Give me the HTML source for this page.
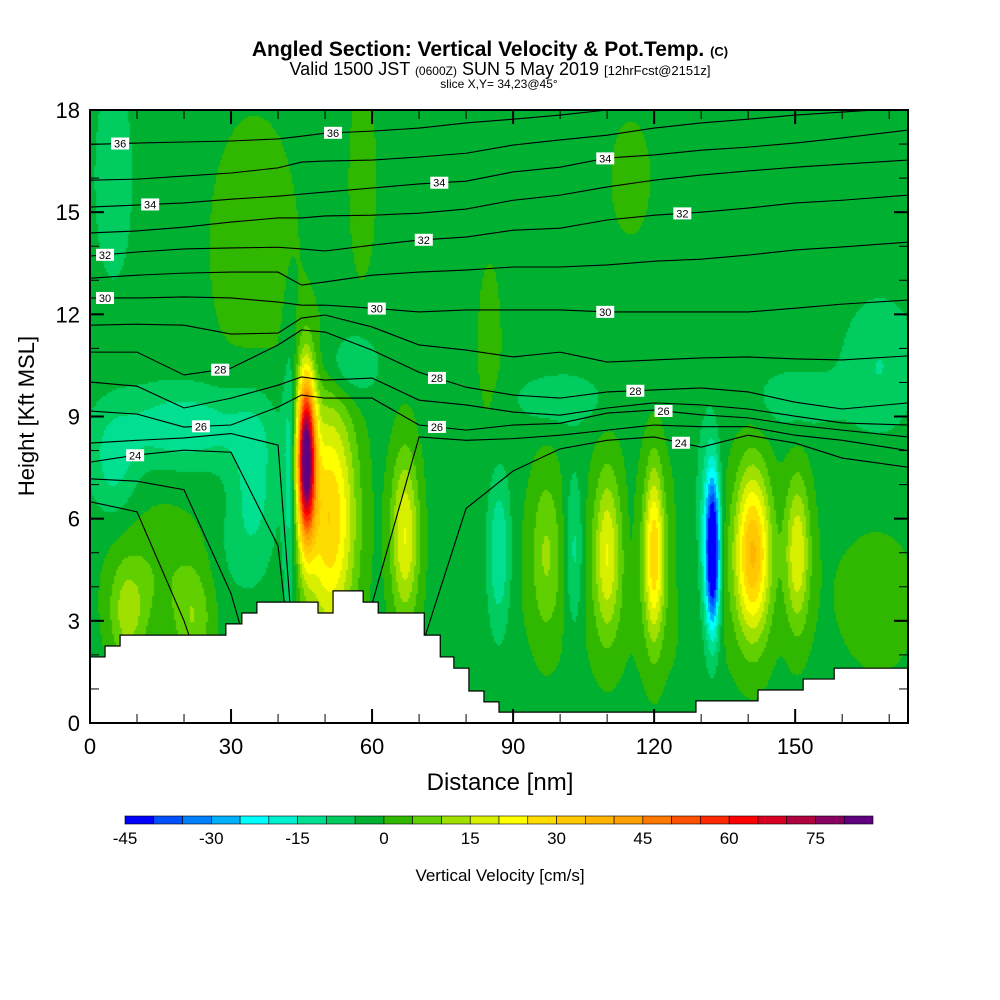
<!DOCTYPE html>
<html><head><meta charset="utf-8">
<style>
body{margin:0;background:#fff;}
#wrap{position:relative;width:1000px;height:1000px;background:#fff;overflow:hidden;font-family:"Liberation Sans",Arial,sans-serif;}
</style></head>
<body>
<div id="wrap">
<svg id="svg" width="1000" height="1000" xmlns="http://www.w3.org/2000/svg">
  <text x="490" y="56" text-anchor="middle" font-size="21" font-weight="bold">Angled Section: Vertical Velocity &amp; Pot.Temp. <tspan font-size="13">(C)</tspan></text>
  <text x="500" y="75" text-anchor="middle" font-size="18">Valid 1500 JST <tspan font-size="12">(0600Z)</tspan> SUN 5 May 2019 <tspan font-size="13">[12hrFcst@2151z]</tspan></text>
  <text x="499" y="88" text-anchor="middle" font-size="12">slice X,Y= 34,23@45°</text>
  <foreignObject x="90" y="110" width="818" height="613">
    <canvas id="cv" width="818" height="613" xmlns="http://www.w3.org/1999/xhtml" style="display:block"></canvas>
  </foreignObject>
  <g id="lines"></g>
  <g id="terrain"></g>
  <g id="labels"></g>
  <g id="axes"></g>
  <text x="500" y="790" text-anchor="middle" font-size="24">Distance [nm]</text>
  <text transform="translate(34,416) rotate(-90)" text-anchor="middle" font-size="22">Height [Kft MSL]</text>
  <g id="cbar"></g>
  <text x="500" y="881" text-anchor="middle" font-size="17">Vertical Velocity [cm/s]</text>
</svg>
</div>
<script>
// ---- data ----
const xNodes=[0,10,20,30,40,45,50,60,70,80,90,100,110,120,130,140,150,160,174];
const thetaLevels=[22,23,24,25,26,27,28,29,30,31,32,33,34,35,36];
const th22=[6.5,6.2,3.0,-1,-1,-1,-1,-1,-1,-1,-1,-1,-1,-1,-1,-1,-1,-1,-1];
const th23=[7.17,7.1,6.85,3.8,-1,-1,-1,-1,-1,-1,-1,-1,-1,-1,-1,-1,-1,-1,-1];
const th24=[7.66,7.87,8.01,7.95,5.2,-1,-1,-1,2.0,6.3,7.4,8.05,8.3,8.4,8.1,8.45,8.22,7.78,7.51];
const th25=[8.22,8.3,8.37,8.5,8.16,-1,-1,3.5,8.4,8.3,8.35,8.45,8.6,8.75,8.7,8.7,8.45,8.3,8.0];
const th26=[9.16,9.07,8.69,8.75,9.28,9.63,9.54,9.54,8.75,8.6,8.75,8.8,9.1,9.19,9.05,8.96,8.75,8.6,8.4];
const th27=[10.01,9.89,9.25,9.54,9.92,10.16,10.07,10.13,9.48,9.34,9.13,9.04,9.25,9.4,9.34,9.22,9.01,8.81,8.75];
const th28=[10.89,10.89,10.22,10.42,11.1,11.54,11.48,10.95,10.3,9.86,9.63,9.54,9.72,9.78,9.84,9.72,9.42,9.22,9.4];
const th29=[11.68,11.71,11.68,11.42,11.45,11.89,11.98,11.63,11.1,10.95,10.75,10.89,10.6,10.66,10.72,10.75,10.69,10.66,10.78];
const th30=[12.48,12.48,12.51,12.48,12.36,12.27,12.27,12.18,12.07,12.13,12.13,12.13,12.07,12.07,12.07,12.07,12.18,12.3,12.42];
const th31=[13.06,13.15,13.21,13.24,13.24,12.86,12.95,13.15,13.24,13.3,13.39,13.39,13.45,13.56,13.62,13.74,13.89,13.98,14.12];
const th32=[13.71,13.83,13.92,13.95,13.97,13.92,13.86,14.03,14.18,14.27,14.47,14.53,14.77,14.91,15.0,15.12,15.27,15.35,15.5];
const th33=[14.39,14.45,14.56,14.71,14.83,14.83,14.89,14.91,14.97,15.09,15.35,15.5,15.74,15.94,16.09,16.21,16.32,16.41,16.53];
const th34=[15.15,15.21,15.27,15.38,15.47,15.53,15.59,15.71,15.83,15.91,16.18,16.32,16.59,16.68,16.82,16.91,17.03,17.18,17.41];
const th35=[15.94,15.97,16.06,16.15,16.3,16.47,16.5,16.53,16.62,16.73,16.97,17.12,17.26,17.47,17.62,17.73,17.85,17.94,18.06];
const th36=[16.99,17.03,17.06,17.09,17.15,17.23,17.32,17.38,17.47,17.62,17.73,17.85,18.0,18.1,18.2,18.3,18.4,18.45,18.5];
const thetaLines=[th22,th23,th24,th25,th26,th27,th28,th29,th30,th31,th32,th33,th34,th35,th36];
const labelTheta=[36,36,34,34,34,32,32,32,30,30,30,28,28,28,26,26,26,24,24];
const labelDist=[6.4,51.7,12.8,74.3,109.6,3.2,71,126,3.2,61,109.6,27.7,73.8,116,23.6,73.8,122,9.6,125.7];
// terrain (step starts in nm, heights in kft)
const terrStart=[0,3.2,6.4,28.9,32.3,35.5,48.5,51.7,58.1,61.3,71.1,74.5,77.4,80.6,83.8,87.0,128.9,142.1,151.7,158.3];
const terrHeight=[1.94,2.26,2.58,2.91,3.23,3.55,3.23,3.88,3.55,3.23,2.58,1.94,1.61,0.94,0.62,0.32,0.65,0.97,1.29,1.61];
// vertical velocity cells (cm/s): centre distance, centre height, amplitude, width(nm), depth(kft)
const cellX  =[46, 51, 42.5, 67, 87, 97, 103, 110, 115, 120, 126, 132.5, 131, 141, 150.5, 120, 20, 35, 5, 5, 168, 150, 100, 55, 8, 22, 15, 35, 58, 85, 115, 168, 30];
const cellY  =[7.8,6, 7, 5.5, 5, 5, 5, 5, 5, 5, 5, 5, 5.5, 5, 5, 4.5, 8.7, 7, 7.5, 16, 10.5, 9.5, 9.5, 10.5, 3.2, 3, 4.5, 14, 16, 11, 16, 3.5, 5];
const cellAmp=[85, 32, -12, 22, -14, 10, -12, 18, -3, 27, -6, -52, -12, 35, 20, 5, -12, -10, -9, -8, -8, -6, -7, -10, 13, 10, 6, 5, 5, 4, 4, 5, -3];
const cellSX =[1.9, 5.5, 1.5, 3, 2.6, 3, 2, 2.6, 1.5, 2, 1.5, 1.5, 2.5, 3.6, 2.6, 30, 15, 5, 5, 4, 8, 10, 10, 6, 4, 4, 10, 10, 3, 3, 5, 8, 5];
const cellSY =[2.3, 3.5, 4, 2.5, 2.4, 2.4, 2.4, 2.4, 2.3, 2.5, 2.3, 2.2, 3, 2.4, 2.2, 3, 1.2, 2.5, 1.5, 3, 2, 1, 0.8, 1, 1.5, 1.5, 2, 4, 3, 3, 2, 2, 1.5];
const baseW=-2;
const cbarTicks=[-45,-30,-15,0,15,30,45,60,75];
const palette=["#0000ff","#0050ff","#0080ff","#00b0ff","#00ffff","#00f0d0","#00e090","#00cc60","#00b030","#30b800","#60d000","#a0e000","#d8f000","#ffff00","#ffdc00","#ffc800","#ffb400","#ffa000","#ff7800","#ff5000","#ff2800","#ff0000","#d80020","#b00040","#880060","#600080"];
const xTicks=[0,30,60,90,120,150];
const yTicks=[0,3,6,9,12,15,18];

// ---- axes ----
const X0=90,X1=908,Y0=723,Y1=110,XMAX=174,YMAX=18;
const sx=d=>X0+d*(X1-X0)/XMAX;
const sy=h=>Y0-h*(Y0-Y1)/YMAX;
const NS="http://www.w3.org/2000/svg";
function mk(tag,attrs,parent){const e=document.createElementNS(NS,tag);for(const k in attrs)e.setAttribute(k,attrs[k]);parent.appendChild(e);return e;}

// field
function wAt(d,h){let v=baseW;for(let i=0;i<cellX.length;i++){const a=(d-cellX[i])/cellSX[i],b=(h-cellY[i])/cellSY[i];const r=a*a+b*b;if(r<12)v+=cellAmp[i]*Math.exp(-r);}return v;}
const cv=document.getElementById('cv');


const ctx=cv.getContext('2d');
const step=2;
for(let py=0;py<613;py+=step){for(let px=0;px<818;px+=step){
  const d=(px+1)*XMAX/818,h=YMAX-(py+1)*YMAX/613;
  let k=Math.floor((wAt(d,h)+45)/5);k=Math.max(0,Math.min(25,k));
  ctx.fillStyle=palette[k];ctx.fillRect(px,py,step,step);}}

// isentropes
const gl=document.getElementById('lines');
mk('clipPath',{id:'pc'},document.getElementById('svg'));
mk('rect',{x:X0,y:Y1,width:X1-X0,height:Y0-Y1},document.getElementById('pc'));
gl.setAttribute('clip-path','url(#pc)');
thetaLines.forEach((arr,i)=>{
  const p=mk('polyline',{points:arr.map((h,j)=>sx(xNodes[j])+','+sy(h)).join(' '),fill:'none',stroke:'#000','stroke-width':1.1},gl);
  
  
});
// terrain
const gt=document.getElementById('terrain');
let pts=[sx(0)+','+sy(0)];
terrStart.forEach((s,i)=>{const e=i+1<terrStart.length?terrStart[i+1]:XMAX;pts.push(sx(s)+','+sy(terrHeight[i]));pts.push(sx(e)+','+sy(terrHeight[i]));});
pts.push(sx(XMAX)+','+sy(0));
const tp=mk('polygon',{points:pts.join(' '),fill:'#fff',stroke:'#000','stroke-width':1.2},gt);


// labels
function interp(arr,d){for(let j=0;j<xNodes.length-1;j++){if(d>=xNodes[j]&&d<=xNodes[j+1]){const t=(d-xNodes[j])/(xNodes[j+1]-xNodes[j]);return arr[j]+t*(arr[j+1]-arr[j]);}}return arr[arr.length-1];}
const glab=document.getElementById('labels');
labelTheta.forEach((t,i)=>{
  const arr=thetaLines[thetaLevels.indexOf(t)];
  const x=sx(labelDist[i]),y=sy(interp(arr,labelDist[i]));
  const g=mk('g',{},glab);
  
  
  mk('rect',{x:x-9,y:y-6,width:18,height:12,fill:'#fff'},g);
  const tx=mk('text',{x:x,y:y+4,'text-anchor':'middle','font-size':11},g);tx.textContent=t;
});
// frame and ticks
const ga=document.getElementById('axes');
mk('rect',{x:X0,y:Y1,width:X1-X0,height:Y0-Y1,fill:'none',stroke:'#000','stroke-width':2},ga);
for(let d=0;d<=XMAX;d+=10){const maj=d%30===0;const L=maj?14:9;
  mk('line',{x1:sx(d),x2:sx(d),y1:Y0,y2:Y0-L,stroke:'#000','stroke-width':maj?2:1},ga);
  mk('line',{x1:sx(d),x2:sx(d),y1:Y1,y2:Y1+L,stroke:'#000','stroke-width':maj?2:1},ga);}
for(let h=0;h<=YMAX;h+=1){const maj=h%3===0;const L=maj?14:9;
  mk('line',{x1:X0,x2:X0+L,y1:sy(h),y2:sy(h),stroke:'#000','stroke-width':maj?2:1},ga);
  mk('line',{x1:X1,x2:X1-L,y1:sy(h),y2:sy(h),stroke:'#000','stroke-width':maj?2:1},ga);}
xTicks.forEach(v=>{const t=mk('text',{x:sx(v),y:754,'text-anchor':'middle','font-size':22},ga);t.textContent=v;
  
  });
yTicks.forEach(v=>{const t=mk('text',{x:80,y:sy(v)+8,'text-anchor':'end','font-size':22},ga);t.textContent=v;
  
  });
// colorbar
const gc=document.getElementById('cbar');
const CB0=125,CB1=873,bw=(CB1-CB0)/palette.length;
palette.forEach((c,i)=>{const r=mk('rect',{x:CB0+i*bw,y:816,width:bw,height:8,fill:c,stroke:'#000','stroke-width':0.6},gc);
  
  });
cbarTicks.forEach(v=>{const t=mk('text',{x:CB0+(v+45)/5*bw,y:844,'text-anchor':'middle','font-size':17},gc);t.textContent=v;
  
  });
</script>
</body></html>
